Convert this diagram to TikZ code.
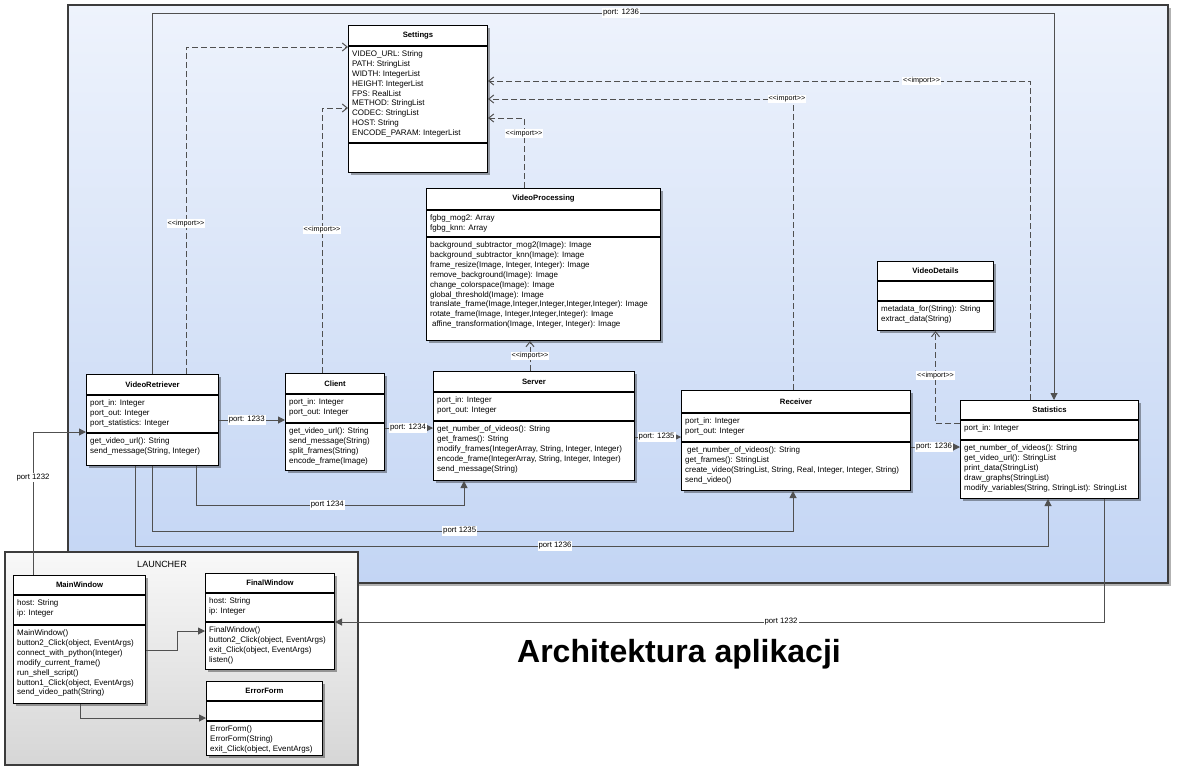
\documentclass[tikz,border=0pt]{standalone}
\usepackage{fontspec}
\setmainfont{Liberation Sans}
\usetikzlibrary{calc}
\usetikzlibrary{arrows.meta,shadows}

\definecolor{linkgray}{HTML}{505050}
\definecolor{framegray}{HTML}{3C3C3C}
\definecolor{bluetop}{HTML}{EEF3FC}
\definecolor{bluebot}{HTML}{C3D5F4}
\definecolor{greytop}{HTML}{F8F8F8}
\definecolor{greybot}{HTML}{D6D6D6}

% name, (north west), width, header h, attribute h, operation h, title, attributes, operations
\newcommand{\umlclass}[9]{%
	\node[classbox, minimum width=#3, minimum height=#4+#5+#6] (#1) at #2 {};
	\node[classtitle] at ($(#1.north)+(0,#4/2)$) {#7};
	\draw[sepline] ($(#1.north west)+(0,#4)$) -- ($(#1.north east)+(0,#4)$);
	\draw[sepline] ($(#1.north west)+(0,#4+#5)$) -- ($(#1.north east)+(0,#4+#5)$);
	\node[classtext] at ($(#1.north west)+(0,#4)$) {#8};
	\node[classtext] at ($(#1.north west)+(0,#4+#5)$) {#9};
}

\begin{document}
\begin{tikzpicture}[x=1pt, y=-1pt,
	classbox/.style={draw=black, line width=1pt, fill=white, anchor=north west, inner sep=0pt,
		drop shadow={shadow xshift=2.5pt, shadow yshift=-2.5pt, opacity=0.35, fill=black}},
	classtitle/.style={font=\bfseries\fontsize{7.7}{9}\selectfont},
	classtext/.style={anchor=north west, align=left, inner xsep=4pt, inner ysep=4.5pt,
		font=\fontsize{8}{9.9}\selectfont},
	sepline/.style={line width=1.3pt},
	link/.style={draw=linkgray, line width=1pt, -{Triangle[length=7pt, width=7pt]}},
	imp/.style={draw=linkgray, line width=1pt, dash pattern=on 6pt off 3pt,
		-{Straight Barb[length=5pt, width=8pt]}},
	portlbl/.style={fill=white, inner sep=1pt, font=\fontsize{7.8}{9}\selectfont},
	implbl/.style={fill=white, inner sep=1pt, font=\fontsize{7.2}{8}\selectfont},
	]

	\useasboundingbox (0,0) rectangle (1177,771);

	\draw[framegray, line width=1.2pt, top color=bluetop, bottom color=bluebot,
		drop shadow={shadow xshift=3pt, shadow yshift=-3pt, opacity=0.3, fill=black}] (68,5) rectangle (1168,583); % application frame
	\draw[framegray, line width=1.2pt, top color=greytop, bottom color=greybot] (5,552) rectangle (358,765); % launcher frame
	\node[font=\fontsize{9}{10}\selectfont] (launchlbl) at (162,564) {LAUNCHER};
	\node[font=\bfseries\fontsize{32}{36}\selectfont] (title) at (679,654) {Architektura aplikacji};

	\umlclass{se}{(348,25)}{139}{21}{97}{29}{Settings}
		{VIDEO\_URL: String\\PATH: StringList\\WIDTH: IntegerList\\HEIGHT: IntegerList\\FPS: RealList\\METHOD: StringList\\CODEC: StringList\\HOST: String\\ENCODE\_PARAM: IntegerList}{}
	\umlclass{vp}{(426,188)}{234}{22}{27}{103}{VideoProcessing}
		{fgbg\_mog2: Array\\fgbg\_knn: Array}
		{background\_subtractor\_mog2(Image): Image\\background\_subtractor\_knn(Image): Image\\frame\_resize(Image, Integer, Integer): Image\\remove\_background(Image): Image\\change\_colorspace(Image): Image\\global\_threshold(Image): Image\\translate\_frame(Image,Integer,Integer,Integer,Integer): Image\\rotate\_frame(Image, Integer,Integer,Integer): Image\\\hspace*{2pt}affine\_transformation(Image, Integer, Integer): Image}
	\umlclass{vr}{(86,374)}{132}{21}{38}{32}{VideoRetriever}
		{port\_in: Integer\\port\_out: Integer\\port\_statistics: Integer}
		{get\_video\_url(): String\\send\_message(String, Integer)}
	\umlclass{cl}{(285,373)}{99}{21}{29}{47}{Client}
		{port\_in: Integer\\port\_out: Integer}
		{get\_video\_url(): String\\send\_message(String)\\split\_frames(String)\\encode\_frame(Image)}
	\umlclass{sv}{(433,371)}{201}{21}{29}{59}{Server}
		{port\_in: Integer\\port\_out: Integer}
		{get\_number\_of\_videos(): String\\get\_frames(): String\\modify\_frames(IntegerArray, String, Integer, Integer)\\encode\_frame(IntegerArray, String, Integer, Integer)\\send\_message(String)}
	\umlclass{rc}{(681,390)}{229}{23}{29}{48}{Receiver}
		{port\_in: Integer\\port\_out: Integer}
		{\hspace*{2pt}get\_number\_of\_videos(): String\\get\_frames(): StringList\\create\_video(StringList, String, Real, Integer, Integer, String)\\send\_video()}
	\umlclass{vd}{(877,261)}{116}{20}{20}{29}{VideoDetails}
		{}{metadata\_for(String): String\\extract\_data(String)}
	\umlclass{st}{(960,400)}{178}{20}{20}{58}{Statistics}
		{port\_in: Integer}
		{get\_number\_of\_videos(): String\\get\_video\_url(): StringList\\print\_data(StringList)\\draw\_graphs(StringList)\\modify\_variables(String, StringList): StringList}
	\umlclass{mw}{(13,575)}{132}{20}{30}{78}{MainWindow}
		{host: String\\ip: Integer}
		{MainWindow()\\button2\_Click(object, EventArgs)\\connect\_with\_python(Integer)\\modify\_current\_frame()\\run\_shell\_script()\\button1\_Click(object, EventArgs)\\send\_video\_path(String)}
	\umlclass{fw}{(205,573)}{129}{20}{29}{47}{FinalWindow}
		{host: String\\ip: Integer}
		{FinalWindow()\\button2\_Click(object, EventArgs)\\exit\_Click(object, EventArgs)\\listen()}
	\umlclass{ef}{(206,681)}{116}{20}{20}{34}{ErrorForm}
		{}{ErrorForm()\\ErrorForm(String)\\exit\_Click(object, EventArgs)}

	% imports
	\draw[imp] ($(vr.north west)+(100,0)$) |- ($(se.north west)+(0,22)$) node[implbl, pos=0.23] {{<}{<}import{>}{>}};
	\draw[imp] ($(cl.north west)+(37,0)$) |- ($(se.north west)+(0,83)$) node[implbl, pos=0.27] {{<}{<}import{>}{>}};
	\draw[imp] ($(vp.north west)+(98,0)$) |- ($(se.north east)+(0,93)$) node[implbl, pos=0.39] {{<}{<}import{>}{>}};
	\draw[imp] ($(rc.north west)+(112,0)$) |- ($(se.north east)+(0,74)$) node[implbl, pos=0.51] {{<}{<}import{>}{>}};
	\draw[imp] ($(st.north west)+(70,0)$) |- ($(se.north east)+(0,56)$) node[implbl, pos=0.60] {{<}{<}import{>}{>}};
	\draw[imp] ($(st.north west)+(0,23)$) -| (vd.south) node[implbl, pos=0.76] {{<}{<}import{>}{>}};
	\draw[imp] ($(sv.north west)+(97,0)$) -- ($(vp.south west)+(104,0)$) node[implbl, midway] {{<}{<}import{>}{>}};

	% ports
	\draw[link] ($(vr.north east)+(0,46)$) -- ($(cl.north west)+(0,47)$) node[portlbl, pos=0.42] {port: 1233};
	\draw[link] ($(cl.north east)+(0,55)$) -- ($(sv.north west)+(0,57)$) node[portlbl, pos=0.48] {port: 1234};
	\draw[link] ($(sv.north east)+(0,66)$) -- ($(rc.north west)+(0,47)$) node[portlbl, pos=0.47] {port: 1235};
	\draw[link] ($(rc.north east)+(0,57)$) -- ($(st.north west)+(0,47)$) node[portlbl, pos=0.47] {port: 1236};
	\draw[link] ($(vr.north west)+(66,0)$) -- ++(0,-361) -| ($(st.north west)+(94,0)$) node[portlbl, pos=0.26] {port: 1236};
	\draw[link] ($(vr.south west)+(110,0)$) -- ++(0,39) -| ($(sv.south west)+(31,0)$) node[portlbl, pos=0.245] {port 1234};
	\draw[link] ($(vr.south west)+(66,0)$) -- ++(0,65) -| ($(rc.south west)+(112,0)$) node[portlbl, pos=0.24] {port 1235};
	\draw[link] ($(vr.south west)+(49,0)$) -- ++(0,80) -| ($(st.south west)+(88,0)$) node[portlbl, pos=0.23] {port 1236};
	\draw[link] ($(mw.north west)+(20,0)$) |- ($(vr.north west)+(0,58)$) node[portlbl, pos=0.34] {port 1232};
	\draw[link] ($(st.south west)+(144,0)$) |- ($(fw.north east)+(0,49)$) node[portlbl, pos=0.71] {port 1232};

	% launcher
	\draw[link] ($(mw.north east)+(0,75)$) -- ++(31,0) |- ($(fw.north west)+(0,58)$);
	\draw[link] ($(mw.south west)+(67,0)$) |- ($(ef.north west)+(0,37)$);

\end{tikzpicture}
\end{document}
